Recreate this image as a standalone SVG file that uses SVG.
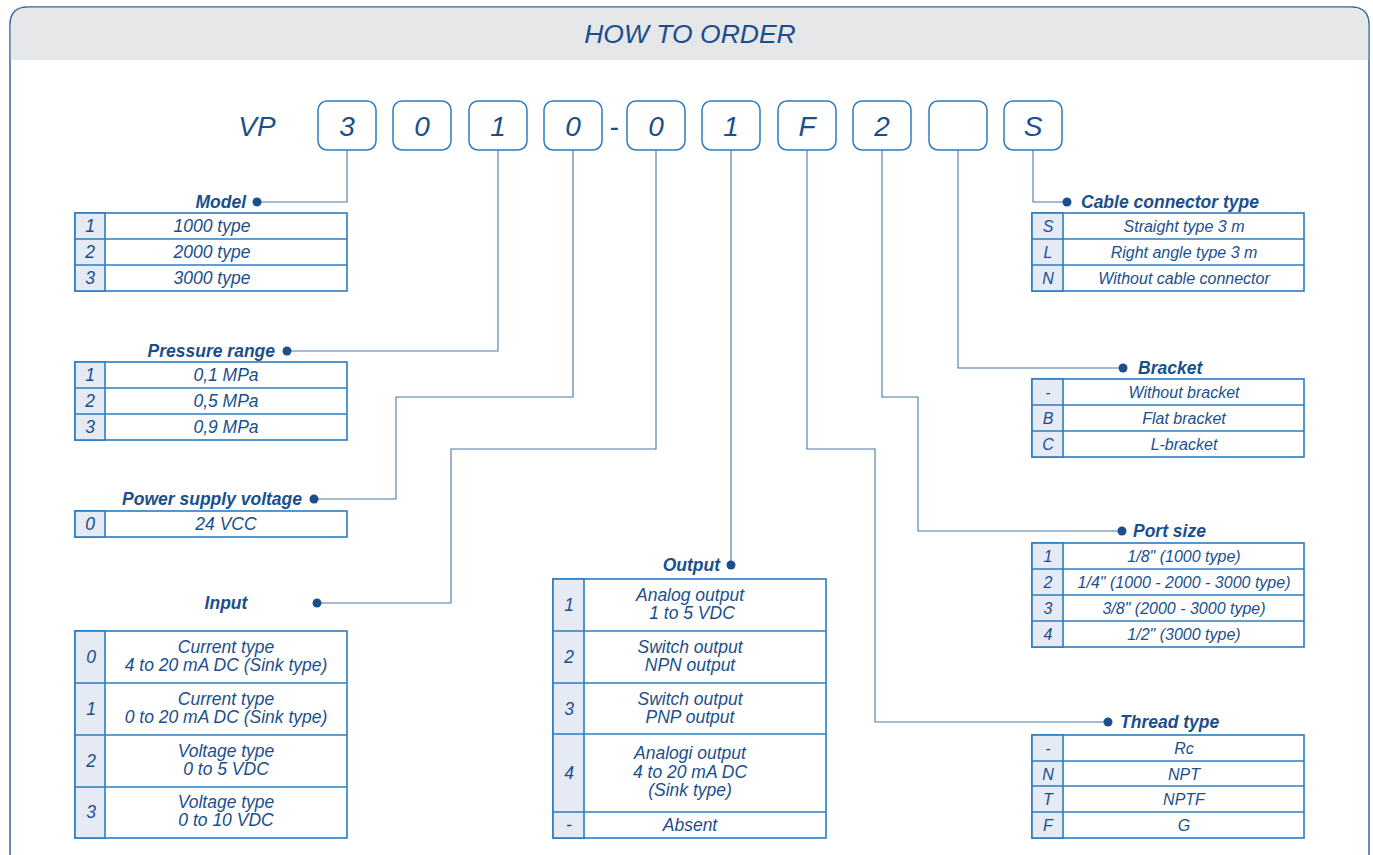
<svg xmlns="http://www.w3.org/2000/svg" width="1373" height="855" viewBox="0 0 1373 855">
<style>
text{font-family:"Liberation Sans",Arial,sans-serif;font-style:italic;fill:#1b4f8c}
.title{font-size:26.5px;text-anchor:middle}
.code{font-size:28px;text-anchor:middle}
.box{fill:#fff;stroke:#2e7cc0;stroke-width:1.5}
.lbl{font-size:17.5px;font-weight:bold}
.r{text-anchor:end}
.m{text-anchor:middle}
.t17{font-size:17.5px;text-anchor:middle}
.t16{font-size:16px;text-anchor:middle}
.tb{fill:#fff;stroke:#2b7cc0;stroke-width:1.6}
.nc{fill:#e6eaf5;stroke:#2b7cc0;stroke-width:1.6}
.ln{stroke:#2b7cc0;stroke-width:1.6}
.con{fill:none;stroke:#4a76a8;stroke-width:1.1}
.dot{fill:#1b4f8c}
</style>
<g id="frame">
<path d="M10 858 V25 Q10 7 28 7 H1351 Q1369 7 1369 25 V858" fill="#fff" stroke="#37679c" stroke-width="1.5"/>
<path d="M10.8 60 V25 Q10.8 7.8 28 7.8 H1351 Q1368.2 7.8 1368.2 25 V60 Z" fill="#e6e7e9"/>
<text class="title" x="690" y="43">HOW TO ORDER</text>
</g>
<g id="code">
<text class="code" x="257" y="136">VP</text>
<rect class="box" x="318" y="101" width="58" height="49" rx="9"/><text class="code" x="347" y="136">3</text>
<rect class="box" x="393" y="101" width="58" height="49" rx="9"/><text class="code" x="422" y="136">0</text>
<rect class="box" x="469" y="101" width="58" height="49" rx="9"/><text class="code" x="498" y="136">1</text>
<rect class="box" x="544" y="101" width="58" height="49" rx="9"/><text class="code" x="573" y="136">0</text>
<text class="code" x="614" y="136">-</text>
<rect class="box" x="627" y="101" width="58" height="49" rx="9"/><text class="code" x="656" y="136">0</text>
<rect class="box" x="702" y="101" width="58" height="49" rx="9"/><text class="code" x="731" y="136">1</text>
<rect class="box" x="778" y="101" width="58" height="49" rx="9"/><text class="code" x="807" y="136">F</text>
<rect class="box" x="853" y="101" width="58" height="49" rx="9"/><text class="code" x="882" y="136">2</text>
<rect class="box" x="929" y="101" width="58" height="49" rx="9"/>
<rect class="box" x="1004" y="101" width="58" height="49" rx="9"/><text class="code" x="1033" y="136">S</text>
</g>
<g id="connectors">
<path class="con" d="M347 150 V202 H258"/>
<path class="con" d="M498 150 V351 H288"/>
<path class="con" d="M573 150 V397 H396 V499 H315"/>
<path class="con" d="M656 150 V449 H451 V603 H318"/>
<path class="con" d="M731 150 V565"/>
<path class="con" d="M807 150 V449 H875 V722 H1108"/>
<path class="con" d="M882 150 V397 H918 V531 H1122"/>
<path class="con" d="M958 150 V368 H1123"/>
<path class="con" d="M1033 150 V202 H1066"/>
<circle class="dot" cx="257" cy="202" r="4.5"/>
<circle class="dot" cx="287" cy="351" r="4.5"/>
<circle class="dot" cx="314" cy="499" r="4.5"/>
<circle class="dot" cx="317" cy="603" r="4.5"/>
<circle class="dot" cx="731" cy="565" r="4.5"/>
<circle class="dot" cx="1108" cy="722" r="4.5"/>
<circle class="dot" cx="1122" cy="531" r="4.5"/>
<circle class="dot" cx="1123" cy="368" r="4.5"/>
<circle class="dot" cx="1067" cy="202" r="4.5"/>
</g>
<g id="model">
<text class="lbl r" x="246" y="208">Model</text>
<rect class="tb" x="75" y="213" width="272" height="78"/>
<rect class="nc" x="75" y="213" width="30" height="78"/>
<line class="ln" x1="75" y1="239" x2="347" y2="239"/><line class="ln" x1="75" y1="265" x2="347" y2="265"/>
<text class="t17" x="90" y="232">1</text><text class="t17" x="212" y="232">1000 type</text>
<text class="t17" x="90" y="258">2</text><text class="t17" x="212" y="258">2000 type</text>
<text class="t17" x="90" y="284">3</text><text class="t17" x="212" y="284">3000 type</text>
</g>
<g id="pressure">
<text class="lbl r" x="275" y="357">Pressure range</text>
<rect class="tb" x="75" y="362" width="272" height="78"/>
<rect class="nc" x="75" y="362" width="30" height="78"/>
<line class="ln" x1="75" y1="388" x2="347" y2="388"/><line class="ln" x1="75" y1="414" x2="347" y2="414"/>
<text class="t17" x="90" y="381">1</text><text class="t17" x="226" y="381">0,1 MPa</text>
<text class="t17" x="90" y="407">2</text><text class="t17" x="226" y="407">0,5 MPa</text>
<text class="t17" x="90" y="433">3</text><text class="t17" x="226" y="433">0,9 MPa</text>
</g>
<g id="power">
<text class="lbl r" x="302" y="505">Power supply voltage</text>
<rect class="tb" x="75" y="511" width="272" height="26"/>
<rect class="nc" x="75" y="511" width="30" height="26"/>
<text class="t17" x="90" y="530">0</text><text class="t17" x="226" y="530">24 VCC</text>
</g>
<g id="input">
<text class="lbl m" x="226" y="609">Input</text>
<rect class="tb" x="75" y="631" width="272" height="207"/>
<rect class="nc" x="75" y="631" width="30" height="207"/>
<line class="ln" x1="75" y1="683" x2="347" y2="683"/><line class="ln" x1="75" y1="735" x2="347" y2="735"/><line class="ln" x1="75" y1="787" x2="347" y2="787"/>
<text class="t17" x="91" y="663">0</text><text class="t17" x="226" y="653">Current type</text><text class="t17" x="226" y="671">4 to 20 mA DC (Sink type)</text>
<text class="t17" x="91" y="715">1</text><text class="t17" x="226" y="705">Current type</text><text class="t17" x="226" y="723">0 to 20 mA DC (Sink type)</text>
<text class="t17" x="91" y="767">2</text><text class="t17" x="226" y="757">Voltage type</text><text class="t17" x="226" y="775">0 to 5 VDC</text>
<text class="t17" x="91" y="818">3</text><text class="t17" x="226" y="808">Voltage type</text><text class="t17" x="226" y="826">0 to 10 VDC</text>
</g>
<g id="output">
<text class="lbl r" x="720" y="571">Output</text>
<rect class="tb" x="553" y="579" width="273" height="259"/>
<rect class="nc" x="553" y="579" width="31" height="259"/>
<line class="ln" x1="553" y1="631" x2="826" y2="631"/><line class="ln" x1="553" y1="683" x2="826" y2="683"/><line class="ln" x1="553" y1="734" x2="826" y2="734"/><line class="ln" x1="553" y1="812" x2="826" y2="812"/>
<text class="t17" x="569" y="611">1</text><text class="t17" x="690" y="601">Analog output</text><text class="t17" x="692" y="619">1 to 5 VDC</text>
<text class="t17" x="569" y="663">2</text><text class="t17" x="690" y="653">Switch output</text><text class="t17" x="690" y="671">NPN output</text>
<text class="t17" x="569" y="715">3</text><text class="t17" x="690" y="705">Switch output</text><text class="t17" x="690" y="723">PNP output</text>
<text class="t17" x="569" y="779">4</text><text class="t17" x="690" y="759">Analogi output</text><text class="t17" x="690" y="778">4 to 20 mA DC</text><text class="t17" x="690" y="796">(Sink type)</text>
<text class="t17" x="569" y="831">-</text><text class="t17" x="690" y="831">Absent</text>
</g>
<g id="cable">
<text class="lbl" x="1081" y="208">Cable connector type</text>
<rect class="tb" x="1032" y="213" width="272" height="78"/>
<rect class="nc" x="1032" y="213" width="31" height="78"/>
<line class="ln" x1="1032" y1="239" x2="1304" y2="239"/><line class="ln" x1="1032" y1="265" x2="1304" y2="265"/>
<text class="t16" x="1048" y="232">S</text><text class="t16" x="1184" y="232">Straight type 3 m</text>
<text class="t16" x="1048" y="258">L</text><text class="t16" x="1184" y="258">Right angle type 3 m</text>
<text class="t16" x="1048" y="284">N</text><text class="t16" x="1184" y="284">Without cable connector</text>
</g>
<g id="bracket">
<text class="lbl" x="1138" y="374">Bracket</text>
<rect class="tb" x="1032" y="379" width="272" height="78"/>
<rect class="nc" x="1032" y="379" width="31" height="78"/>
<line class="ln" x1="1032" y1="405" x2="1304" y2="405"/><line class="ln" x1="1032" y1="431" x2="1304" y2="431"/>
<text class="t16" x="1048" y="398">-</text><text class="t16" x="1184" y="398">Without bracket</text>
<text class="t16" x="1048" y="424">B</text><text class="t16" x="1184" y="424">Flat bracket</text>
<text class="t16" x="1048" y="450">C</text><text class="t16" x="1184" y="450">L-bracket</text>
</g>
<g id="port">
<text class="lbl" x="1133" y="537">Port size</text>
<rect class="tb" x="1032" y="543" width="272" height="104"/>
<rect class="nc" x="1032" y="543" width="31" height="104"/>
<line class="ln" x1="1032" y1="569" x2="1304" y2="569"/><line class="ln" x1="1032" y1="595" x2="1304" y2="595"/><line class="ln" x1="1032" y1="621" x2="1304" y2="621"/>
<text class="t16" x="1048" y="562">1</text><text class="t16" x="1184" y="562">1/8" (1000 type)</text>
<text class="t16" x="1048" y="588">2</text><text class="t16" x="1184" y="588">1/4" (1000 - 2000 - 3000 type)</text>
<text class="t16" x="1048" y="614">3</text><text class="t16" x="1184" y="614">3/8" (2000 - 3000 type)</text>
<text class="t16" x="1048" y="640">4</text><text class="t16" x="1184" y="640">1/2" (3000 type)</text>
</g>
<g id="thread">
<text class="lbl" x="1120" y="728">Thread type</text>
<rect class="tb" x="1032" y="735" width="272" height="103"/>
<rect class="nc" x="1032" y="735" width="31" height="103"/>
<line class="ln" x1="1032" y1="761" x2="1304" y2="761"/><line class="ln" x1="1032" y1="786" x2="1304" y2="786"/><line class="ln" x1="1032" y1="812" x2="1304" y2="812"/>
<text class="t16" x="1048" y="754">-</text><text class="t16" x="1184" y="754">Rc</text>
<text class="t16" x="1048" y="780">N</text><text class="t16" x="1184" y="780">NPT</text>
<text class="t16" x="1048" y="805">T</text><text class="t16" x="1184" y="805">NPTF</text>
<text class="t16" x="1048" y="831">F</text><text class="t16" x="1184" y="831">G</text>
</g>
</svg>
